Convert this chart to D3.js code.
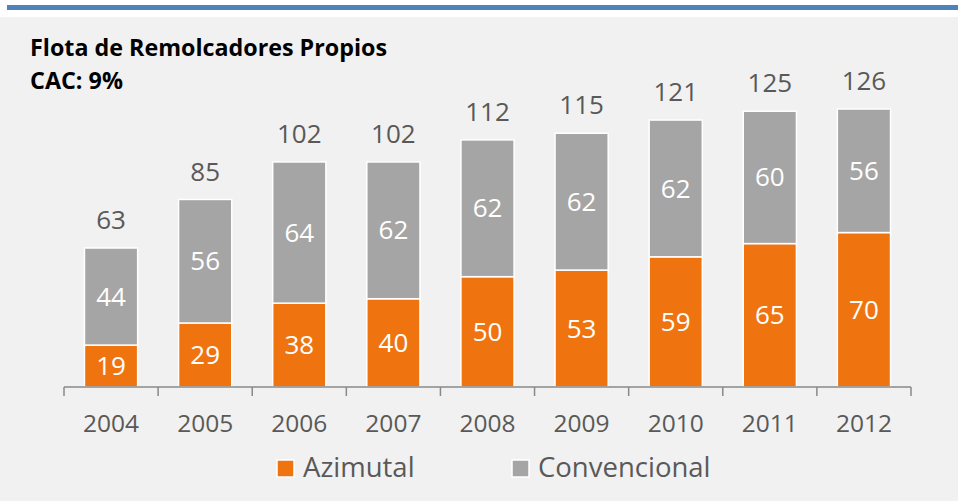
<!DOCTYPE html>
<meta charset="utf-8">
<title>Flota de Remolcadores Propios</title>
<style>
    body { margin: 0; background: #fff; }
    svg { display: block; font-family: "Open Sans", "Noto Sans", sans-serif; }
</style>
<body>
<div id="chart"></div>
<script src="https://d3js.org/d3.v7.min.js"></script>
<script>
    // data
    var years = ["2004", "2005", "2006", "2007", "2008", "2009", "2010", "2011", "2012"];
    var azimutal = [19, 29, 38, 40, 50, 53, 59, 65, 70];
    var convencional = [44, 56, 64, 62, 62, 62, 62, 60, 56];
    var totals = [63, 85, 102, 102, 112, 115, 121, 125, 126];
    var seriesNames = ["Azimutal", "Convencional"];
    var colors = ["#EF7410", "#A5A5A5"];

    var W = 958, H = 501;
    var svg = d3.select("#chart").append("svg")
        .attr("width", W).attr("height", H);

    // gray panel and blue top rule
    svg.append("rect").attr("x", 0).attr("y", 17).attr("width", W).attr("height", H - 17)
        .attr("fill", "#F1F1F1");
    svg.append("rect").attr("x", 7).attr("y", 5).attr("width", W - 7).attr("height", 5)
        .attr("fill", "#4F81BD");

    // title
    svg.append("text").attr("x", 30).attr("y", 56)
        .attr("font-size", "24px").attr("font-weight", "bold").attr("fill", "#000")
        .attr("textLength", 357).attr("lengthAdjust", "spacingAndGlyphs")
        .text("Flota de Remolcadores Propios");
    svg.append("text").attr("x", 30).attr("y", 89)
        .attr("font-size", "24px").attr("font-weight", "bold").attr("fill", "#000")
        .attr("textLength", 93).attr("lengthAdjust", "spacingAndGlyphs")
        .text("CAC: 9%");

    var x = d3.scaleBand().domain(years).range([64, 911]).paddingInner(0.435).paddingOuter(0.2175);
    var y = d3.scaleLinear().domain([0, 126]).range([387, 109]);

    var rows = years.map(function (yr, i) {
        return { year: yr, Azimutal: azimutal[i], Convencional: convencional[i], total: totals[i] };
    });
    var stacked = d3.stack().keys(seriesNames)(rows);

    var layers = svg.selectAll(".layer").data(stacked).enter().append("g")
        .attr("class", "layer")
        .attr("fill", function (d, i) { return colors[i]; });

    layers.selectAll("rect").data(function (d) { return d; }).enter().append("rect")
        .attr("x", function (d) { return x(d.data.year); })
        .attr("y", function (d) { return y(d[1]); })
        .attr("width", x.bandwidth())
        .attr("height", function (d) { return y(d[0]) - y(d[1]); })
        .attr("stroke", "#fff").attr("stroke-width", 1.5);

    layers.selectAll("text").data(function (d) { return d; }).enter().append("text")
        .attr("x", function (d) { return x(d.data.year) + x.bandwidth() / 2; })
        .attr("y", function (d) { return (y(d[0]) + y(d[1])) / 2; })
        .attr("dy", "0.35em")
        .attr("text-anchor", "middle")
        .attr("font-size", "26px").attr("fill", "#fff")
        .text(function (d) { return d[1] - d[0]; });

    // totals above bars
    svg.selectAll(".total").data(rows).enter().append("text")
        .attr("class", "total")
        .attr("x", function (d) { return x(d.year) + x.bandwidth() / 2; })
        .attr("y", function (d) { return y(d.total) - 28; })
        .attr("dy", "0.35em")
        .attr("text-anchor", "middle")
        .attr("font-size", "26px").attr("fill", "#595959")
        .text(function (d) { return d.total; });

    // x axis
    var axis = svg.append("g").attr("transform", "translate(0,387)");
    axis.append("line").attr("x1", 64).attr("x2", 911).attr("stroke", "#898989").attr("stroke-width", 1.5);
    var step = (911 - 64) / years.length;
    axis.selectAll(".tick").data(d3.range(years.length + 1)).enter().append("line")
        .attr("x1", function (i) { return 64 + i * step; })
        .attr("x2", function (i) { return 64 + i * step; })
        .attr("y1", 0).attr("y2", 9)
        .attr("stroke", "#898989").attr("stroke-width", 1.5);
    axis.selectAll(".lbl").data(years).enter().append("text")
        .attr("x", function (d) { return x(d) + x.bandwidth() / 2; })
        .attr("y", 36).attr("dy", "0.35em")
        .attr("text-anchor", "middle")
        .attr("font-size", "24.5px").attr("fill", "#595959")
        .text(function (d) { return d; });

    // legend
    var legendX = [277, 512];
    var leg = svg.selectAll(".leg").data(seriesNames).enter().append("g")
        .attr("transform", function (d, i) { return "translate(" + legendX[i] + ",460)"; });
    leg.append("rect").attr("width", 17).attr("height", 17)
        .attr("fill", function (d, i) { return colors[i]; })
        .attr("stroke", "#fff").attr("stroke-width", 1.5);
    leg.append("text").attr("x", 26).attr("y", 7.5).attr("dy", "0.35em")
        .attr("font-size", "27.5px").attr("fill", "#595959")
        .text(function (d) { return d; });
</script>
</body>
